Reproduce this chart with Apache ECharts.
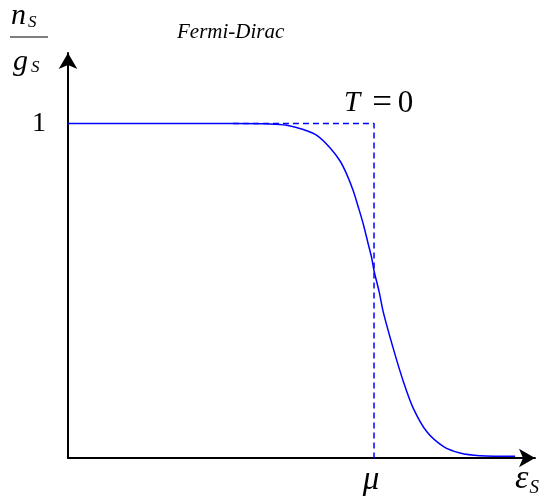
<!DOCTYPE html>
<html>
<head>
<meta charset="utf-8">
<script src="https://cdn.jsdelivr.net/npm/echarts@6/dist/echarts.min.js"></script>
<style>
  html, body { margin: 0; padding: 0; background: #fff; }
  #chart { width: 539px; height: 497px; }
</style>
</head>
<body>
<div id="chart"></div>
<script>
// Energy in units of the chemical potential (mu = 1), occupancy n_S / g_S
const energy = [0, 0.539, 0.660, 0.715, 0.769, 0.813, 0.856, 0.889, 0.911, 0.932, 0.949, 0.965,
                0.981, 0.992, 1.000, 1.017, 1.030, 1.063, 1.096, 1.128, 1.172, 1.226, 1.281,
                1.346, 1.461];
const occupancy = [1, 1, 0.999, 0.995, 0.982, 0.965, 0.928, 0.888, 0.848, 0.799, 0.749, 0.699,
                   0.640, 0.600, 0.560, 0.496, 0.437, 0.327, 0.228, 0.149, 0.079, 0.035, 0.015,
                   0.007, 0.005];
// Zero-temperature step function
const stepEnergy = [0.539, 1, 1];
const stepOccupancy = [1, 1, 0];
const xTicks = { 1: 'μ' };
const yTicks = { 1: '1' };

const serif = '"Liberation Serif", "DejaVu Serif", serif';
const blue = '#0000ff';

const chart = echarts.init(document.getElementById('chart'), null, { renderer: 'canvas' });

chart.setOption({
  backgroundColor: '#ffffff',
  animation: false,
  grid: { left: 68, right: 4, top: 53, bottom: 37, containLabel: false },
  xAxis: {
    type: 'value',
    min: 0, max: 1.526, interval: 1,
    splitLine: { show: false },
    axisTick: { show: false },
    axisLine: {
      show: true, onZero: true,
      symbol: ['none', 'arrow'], symbolSize: [14, 16],
      lineStyle: { color: '#000', width: 2 }
    },
    axisLabel: {
      margin: 6,
      formatter: v => xTicks[v] || '',
      fontFamily: serif, fontStyle: 'italic', fontSize: 33, color: '#000',
      padding: [0, 6, 0, 0]
    }
  },
  yAxis: {
    type: 'value',
    min: 0, max: 1.211, interval: 1,
    splitLine: { show: false },
    axisTick: { show: false },
    axisLine: {
      show: true,
      symbol: ['none', 'arrow'], symbolSize: [14, 16],
      lineStyle: { color: '#000', width: 2 }
    },
    axisLabel: {
      margin: 22,
      formatter: v => yTicks[v] || '',
      fontFamily: serif, fontSize: 28, color: '#000',
      padding: [0, 0, 4, 0]
    }
  },
  series: [
    {
      type: 'line',
      data: stepEnergy.map((x, i) => [x, stepOccupancy[i]]),
      showSymbol: false,
      lineStyle: { color: blue, width: 1.5, type: [6, 4] },
      z: 2
    },
    {
      type: 'line',
      data: energy.map((x, i) => [x, occupancy[i]]),
      showSymbol: false,
      smooth: 0.3,
      lineStyle: { color: blue, width: 1.5 },
      z: 3
    }
  ],
  graphic: [
    {
      type: 'text', left: 11, top: 1,
      style: {
        text: '{v|n}{s|S}', fill: '#000',
        rich: {
          v: { fontFamily: serif, fontStyle: 'italic', fontSize: 30 },
          s: { fontFamily: serif, fontStyle: 'italic', fontSize: 17, padding: [13, 0, 0, 2] }
        }
      }
    },
    {
      type: 'line', shape: { x1: 10, y1: 37, x2: 48, y2: 37 },
      style: { stroke: '#000', lineWidth: 1 }
    },
    {
      type: 'text', left: 13, top: 47,
      style: {
        text: '{v|g}{s|S}', fill: '#000',
        rich: {
          v: { fontFamily: serif, fontStyle: 'italic', fontSize: 30 },
          s: { fontFamily: serif, fontStyle: 'italic', fontSize: 17, padding: [11, 0, 0, 3] }
        }
      }
    },
    {
      type: 'text', left: 177, top: 22,
      style: { text: 'Fermi-Dirac', fill: '#000', font: 'italic 21px ' + serif }
    },
    {
      type: 'text', left: 344, top: 86,
      style: {
        text: '{t|T}{e|=}{z|0}', fill: '#000',
        rich: {
          t: { fontFamily: serif, fontStyle: 'italic', fontSize: 29 },
          e: { fontFamily: serif, fontSize: 35, padding: [0, 6, 0, 12] },
          z: { fontFamily: serif, fontSize: 31 }
        }
      }
    },
    {
      type: 'text', left: 515, top: 462,
      style: {
        text: '{v|ε}{s|S}', fill: '#000',
        rich: {
          v: { fontFamily: serif, fontStyle: 'italic', fontSize: 34 },
          s: { fontFamily: serif, fontStyle: 'italic', fontSize: 19, padding: [17, 0, 0, 1] }
        }
      }
    }
  ]
});
</script>
</body>
</html>
